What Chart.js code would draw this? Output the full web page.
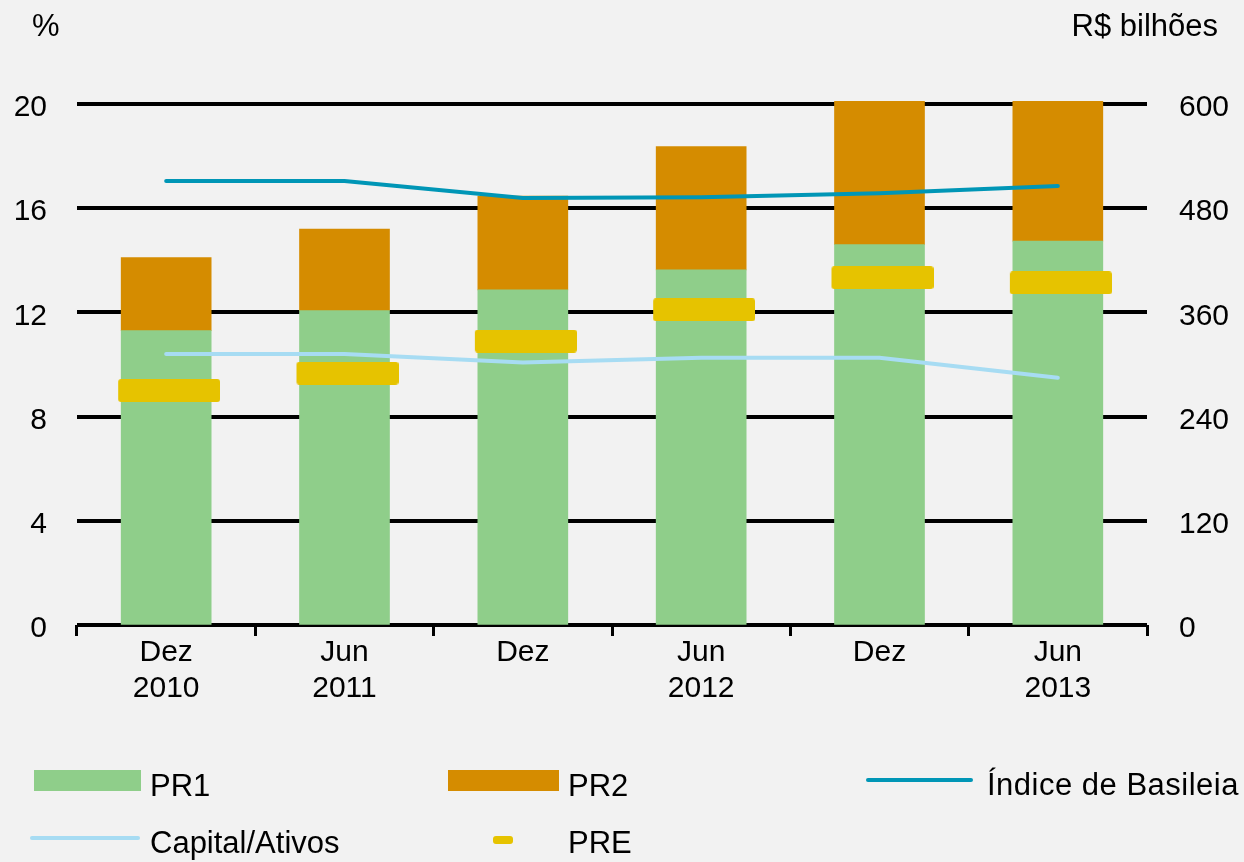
<!DOCTYPE html>
<html>
<head>
<meta charset="utf-8">
<script src="https://cdn.jsdelivr.net/npm/chart.js@4"></script>
<style>
  html, body { margin: 0; padding: 0; background: #f2f2f2; }
  #wrap { position: relative; width: 1244px; height: 862px; overflow: hidden;
          font-family: "Liberation Sans", Arial, sans-serif; color: #000; }
  #chart { position: absolute; left: 0; top: 0; }
  .txt { position: absolute; font-size: 31px; line-height: 31px; white-space: nowrap; }
  .sw { position: absolute; }
</style>
</head>
<body>
<div id="wrap">
  <canvas id="chart" width="1244" height="862"></canvas>
  <div class="txt" style="left:32px; top:10px;">%</div>
  <div class="txt" style="right:26px; top:10px;">R$ bilhões</div>

  <div class="sw" style="left:34px; top:770px; width:107px; height:21px; background:#8fce8a;"></div>
  <div class="txt" style="left:150px; top:770px;">PR1</div>
  <div class="sw" style="left:448px; top:770px; width:111px; height:21px; background:#d58c00;"></div>
  <div class="txt" style="left:568px; top:770px;">PR2</div>
  <div class="sw" style="left:866px; top:778px; width:107px; height:4px; border-radius:2px; background:#0096b6;"></div>
  <div class="txt" style="left:987px; top:769px; letter-spacing:0.5px;">Índice de Basileia</div>

  <div class="sw" style="left:30px; top:836px; width:110px; height:4px; border-radius:2px; background:#a7dcf3;"></div>
  <div class="txt" style="left:150px; top:827px;">Capital/Ativos</div>
  <div class="sw" style="left:493px; top:836px; width:20px; height:8px; border-radius:3px; background:#e6c300;"></div>
  <div class="txt" style="left:568px; top:827px;">PRE</div>
</div>
<script>
// categories (semester ends)
const labels = [['Dez', '2010'], ['Jun', '2011'], ['Dez', ''], ['Jun', '2012'], ['Dez', ''], ['Jun', '2013']];

// R$ bilhões (right axis)
const pr1 = [339, 362, 386, 409, 438, 442];
const pr2 = [84, 94, 108, 142, 170, 165];
const pre = [270, 290, 327, 363, 400, 394];

// % (left axis)
const indiceBasileia = [17.04, 17.04, 16.39, 16.42, 16.57, 16.85];
const capitalAtivos = [10.40, 10.40, 10.08, 10.26, 10.26, 9.49];

const leftTicks = [0, 4, 8, 12, 16, 20];
const rightTicks = [0, 120, 240, 360, 480, 600];

const colors = {
    pr1: '#8fce8a',
    pr2: '#d58c00',
    pre: '#e6c300',
    indice: '#0096b6',
    capital: '#a7dcf3'
};

// PRE marker drawn as a wide rounded dash (sits a few px right of the bar centre)
function makeDash(w, h, r, shift, color) {
    const c = document.createElement('canvas');
    c.width = w + shift;
    c.height = h;
    const g = c.getContext('2d');
    g.fillStyle = color;
    g.beginPath();
    g.roundRect(shift, 0, w, h, r);
    g.fill();
    return c;
}
const preDash = makeDash(102, 23, 3, 6, colors.pre);

const tickFont = { family: '"Liberation Sans", Arial, sans-serif', size: 30 };

new Chart(document.getElementById('chart'), {
    data: {
        labels: labels,
        datasets: [
            {
                type: 'line',
                label: 'Índice de Basileia',
                data: indiceBasileia,
                yAxisID: 'y',
                borderColor: colors.indice,
                borderWidth: 4,
                borderCapStyle: 'round',
                pointRadius: 0,
                tension: 0,
                order: 0
            },
            {
                type: 'line',
                label: 'Capital/Ativos',
                data: capitalAtivos,
                yAxisID: 'y',
                borderColor: colors.capital,
                borderWidth: 4,
                borderCapStyle: 'round',
                pointRadius: 0,
                tension: 0,
                order: 0
            },
            {
                type: 'line',
                label: 'PRE',
                data: pre,
                yAxisID: 'y1',
                stack: 'pre',
                showLine: false,
                pointStyle: preDash,
                pointRadius: 5,
                order: 1
            },
            {
                type: 'bar',
                label: 'PR1',
                data: pr1,
                yAxisID: 'y1',
                stack: 'pr',
                backgroundColor: colors.pr1,
                barThickness: 90,
                clip: { left: 0, top: 3, right: 0, bottom: 0 },
                order: 2
            },
            {
                type: 'bar',
                label: 'PR2',
                data: pr2,
                yAxisID: 'y1',
                stack: 'pr',
                backgroundColor: colors.pr2,
                barThickness: 90,
                clip: { left: 0, top: 3, right: 0, bottom: 0 },
                order: 2
            }
        ]
    },
    options: {
        responsive: false,
        animation: false,
        layout: { padding: { top: 104, left: 0, right: 0, bottom: 0 } },
        plugins: {
            legend: { display: false },
            tooltip: { enabled: false }
        },
        scales: {
            x: {
                stacked: true,
                offset: true,
                border: { display: false },
                grid: {
                    offset: true,
                    drawOnChartArea: false,
                    drawTicks: true,
                    tickLength: 11,
                    lineWidth: 3,
                    color: '#000'
                },
                ticks: {
                    color: '#000',
                    font: { ...tickFont, lineHeight: 1.2 },
                    padding: -1,
                    maxRotation: 0,
                    autoSkip: false
                },
                afterFit(scale) { scale.height = 862 - 625; }
            },
            y: {
                position: 'left',
                min: 0,
                max: 20,
                border: { display: false },
                grid: { color: '#000', lineWidth: 4, drawTicks: false },
                ticks: {
                    color: '#000',
                    font: tickFont,
                    padding: 30,
                    labelOffset: 4,
                    stepSize: 4
                },
                afterBuildTicks(scale) { scale.ticks = leftTicks.map(v => ({ value: v })); },
                afterFit(scale) { scale.width = 77; }
            },
            y1: {
                position: 'right',
                stacked: true,
                min: 0,
                max: 600,
                border: { display: false },
                grid: { drawOnChartArea: false, drawTicks: false },
                ticks: {
                    color: '#000',
                    font: tickFont,
                    padding: 32,
                    labelOffset: 4,
                    stepSize: 120
                },
                afterBuildTicks(scale) { scale.ticks = rightTicks.map(v => ({ value: v })); },
                afterFit(scale) { scale.width = 1244 - 1147; }
            }
        }
    }
});
</script>
</body>
</html>
